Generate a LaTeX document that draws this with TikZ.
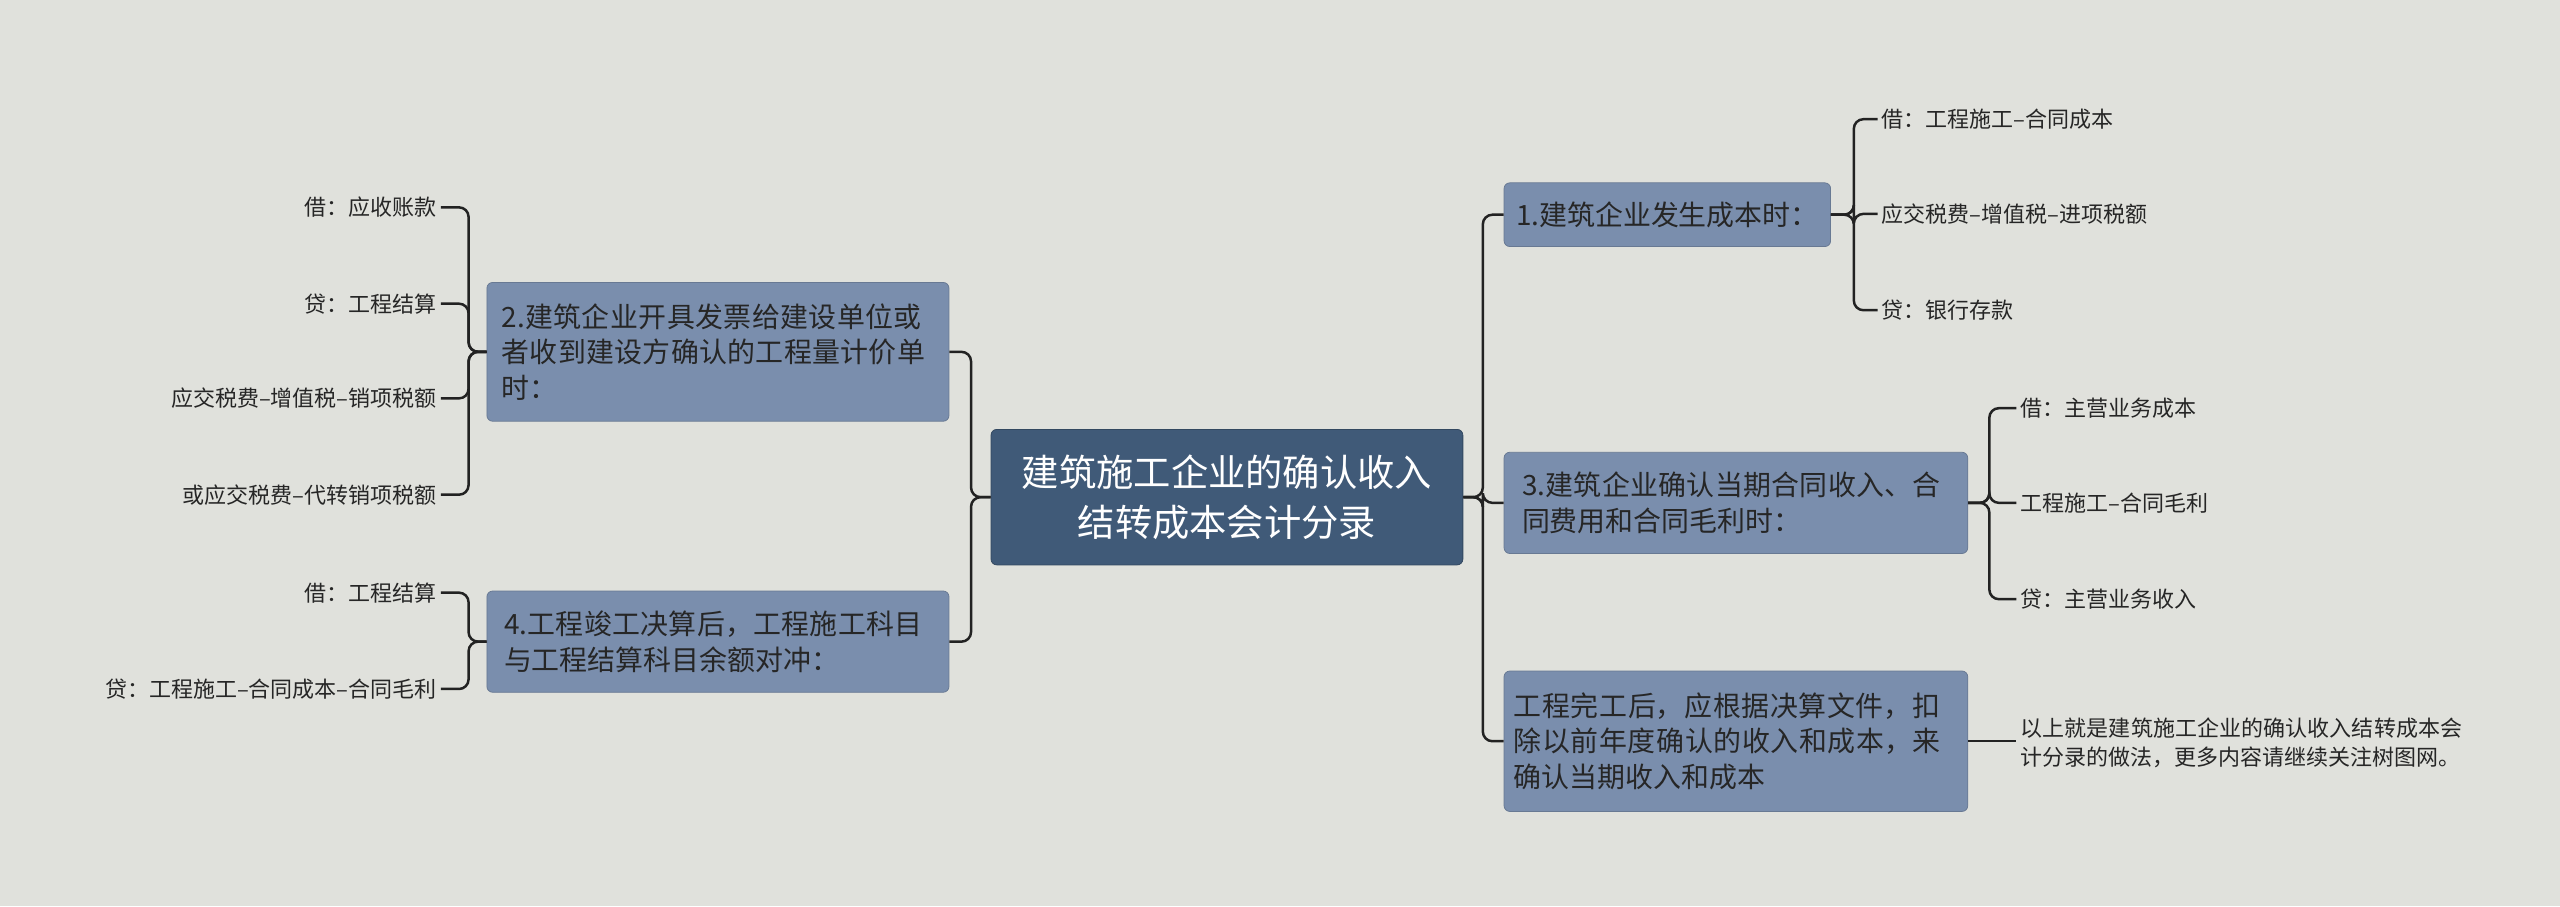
\documentclass[tikz,border=0pt]{standalone}
\usepackage{fontspec}
\setmainfont{Noto Sans CJK SC}
\XeTeXlinebreaklocale "zh"
\XeTeXlinebreakskip=0pt plus 1pt
\usetikzlibrary{calc}
\definecolor{bg}{HTML}{E0E1DC}
\definecolor{cen}{HTML}{405A78}
\definecolor{br}{HTML}{7A8EAD}
\definecolor{ln}{HTML}{222222}
\tikzset{
 cent/.style={draw=cen!80!black,fill=cen,rounded corners=3pt,text=white,font=\fontsize{19.5}{26}\selectfont,align=center,minimum width=289*0.03cm,minimum height=83*0.03cm,inner sep=2pt},
 brn/.style={draw=br!85!black,fill=br,rounded corners=3pt,text=black!85,font=\fontsize{14.6}{18.5}\selectfont,align=left,anchor=west,inner xsep=5pt},
 lf/.style={font=\fontsize{11.5}{15}\selectfont,text=black!85,inner sep=2pt},
 conn/.style={draw=ln,line width=1.3pt,rounded corners=5pt}
}
\begin{document}
\begin{tikzpicture}[x=0.03cm,y=-0.03cm]
\fill[bg] (0,0) rectangle (1568,555);
\useasboundingbox (0,0) rectangle (1568,555);
\node[cent] (c) at (751.5,304.5) {建筑施工企业的确认收入\\结转成本会计分录};
\node[brn,minimum width=200*0.03cm,minimum height=39*0.03cm] (r1) at (921,131.5) {1.建筑企业发生成本时：};
\node[brn,minimum width=284*0.03cm,minimum height=62*0.03cm,text width=262*0.03cm] (r2) at (921,308) {3.建筑企业确认当期合同收入、合同费用和合同毛利时：};
\node[brn,minimum width=284*0.03cm,minimum height=86*0.03cm,text width=272*0.03cm] (r3) at (921,454) {工程完工后，应根据决算文件，扣除以前年度确认的收入和成本，来确认当期收入和成本};
\node[brn,minimum width=283*0.03cm,minimum height=85*0.03cm,text width=265*0.03cm] (l1) at (298,215.5) {2.建筑企业开具发票给建设单位或者收到建设方确认的工程量计价单时：};
\node[brn,minimum width=283*0.03cm,minimum height=62*0.03cm,text width=262*0.03cm] (l2) at (298,393) {4.工程竣工决算后，工程施工科目与工程结算科目余额对冲：};
% right leaves
\node[lf,anchor=west] (a1) at (1150,73) {借：工程施工–合同成本};
\node[lf,anchor=west] (a2) at (1150,131) {应交税费–增值税–进项税额};
\node[lf,anchor=west] (a3) at (1150,190) {贷：银行存款};
\node[lf,anchor=west] (b1) at (1235,250) {借：主营业务成本};
\node[lf,anchor=west] (b2) at (1235,308) {工程施工–合同毛利};
\node[lf,anchor=west] (b3) at (1235,367) {贷：主营业务收入};
\node[lf,anchor=west,align=left,text width=272*0.03cm,font=\fontsize{11.5}{15}\selectfont] (d1) at (1235,455) {以上就是建筑施工企业的确认收入结转成本会计分录的做法，更多内容请继续关注树图网。};
% left leaves
\node[lf,anchor=east] (e1) at (270,127) {借：应收账款};
\node[lf,anchor=east] (e2) at (270,186) {贷：工程结算};
\node[lf,anchor=east] (e3) at (270,244) {应交税费–增值税–销项税额};
\node[lf,anchor=east] (e4) at (270,303) {或应交税费–代转销项税额};
\node[lf,anchor=east] (f1) at (270,363) {借：工程结算};
\node[lf,anchor=east] (f2) at (270,422) {贷：工程施工–合同成本–合同毛利};
% connectors
\foreach \t in {r1,r2,r3} \draw[conn] (c.east) -- ++(12,0) |- (\t.west);
\foreach \t in {l1,l2} \draw[conn] (c.west) -- ++(-12,0) |- (\t.east);
\foreach \t in {a1,a2,a3} \draw[conn] (r1.east) -- ++(14,0) |- (\t.west);
\foreach \t in {b1,b2,b3} \draw[conn] (r2.east) -- ++(13,0) |- (\t.west);
\draw[conn] (r3.east) -- (d1.west |- r3.east);
\foreach \t in {e1,e2,e3,e4} \draw[conn] (l1.west) -- ++(-11,0) |- (\t.east);
\foreach \t in {f1,f2} \draw[conn] (l2.west) -- ++(-11,0) |- (\t.east);
\end{tikzpicture}
\end{document}
